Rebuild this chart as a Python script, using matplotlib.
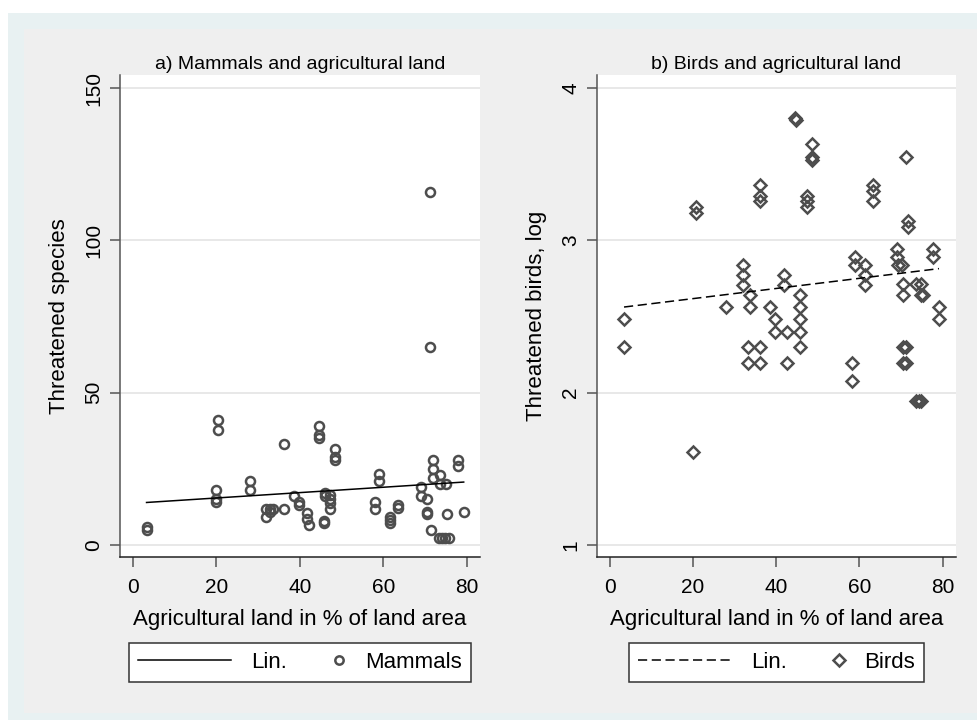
import matplotlib

matplotlib.use("Agg")
import matplotlib.pyplot as plt
import numpy as np
from matplotlib.lines import Line2D
from matplotlib.patches import Rectangle
from matplotlib.legend_handler import HandlerLine2D

# ---------- data ----------
mammal_x = [3.35, 3.35, 20.5, 20.5, 20.0, 20.0, 20.0, 28.1, 28.1, 31.9, 31.9, 32.9,
            33.7, 32.9, 36.2, 36.2, 38.5, 39.7, 39.7, 41.8, 41.8, 42.3, 45.7, 45.7,
            44.7, 44.7, 44.7, 46.1, 46.1, 47.3, 47.3, 47.3, 47.3, 48.5, 48.5, 48.5,
            58.9, 58.9, 58.0, 58.0, 61.5, 61.5, 61.5, 63.6, 63.6, 69.0, 69.0, 70.4,
            70.4, 70.4, 71.2, 71.2, 71.9, 71.9, 71.9, 71.5, 73.6, 73.6, 75.0, 75.2,
            73.2, 74.0, 74.8, 75.6, 77.8, 77.8, 79.2]
mammal_y = [6.0, 4.9, 41.2, 37.9, 18.0, 15.3, 14.0, 21.0, 18.0, 12.0, 9.3, 12.0,
            12.0, 10.9, 33.1, 12.0, 16.2, 14.2, 13.1, 10.4, 8.7, 6.6, 8.0, 7.3,
            39.1, 36.1, 35.0, 17.2, 16.2, 16.4, 15.3, 13.7, 12.0, 31.4, 29.0, 27.9,
            23.2, 21.0, 14.2, 12.0, 9.3, 8.2, 7.1, 13.1, 12.2, 19.1, 16.1, 15.0,
            10.9, 10.2, 115.8, 65.0, 27.9, 24.9, 21.9, 4.9, 23.0, 20.2, 20.2, 10.1,
            2.2, 2.2, 2.2, 2.2, 28.1, 25.9, 10.9]

bird_x = [3.4, 3.4, 20.6, 20.6, 20.0, 28.0, 32.1, 32.1, 32.1, 33.7, 33.7, 33.3,
          33.3, 36.1, 36.1, 36.2, 36.2, 36.2, 38.5, 39.7, 39.7, 41.8, 41.8, 42.5,
          42.5, 44.6, 44.8, 45.8, 45.8, 45.8, 45.8, 45.8, 47.3, 47.3, 47.3, 48.5,
          48.5, 48.5, 58.1, 58.1, 58.9, 58.9, 61.3, 61.3, 61.3, 63.3, 63.3, 63.3,
          68.9, 68.9, 69.3, 70.1, 70.4, 70.4, 70.4, 70.4, 71.2, 71.2, 71.2, 71.7,
          71.7, 73.7, 74.3, 74.9, 73.7, 74.9, 74.9, 75.2, 77.7, 77.7, 79.1, 79.1]
bird_y = [2.486, 2.30, 3.218, 3.18, 1.612, 2.562, 2.835, 2.77, 2.704, 2.639, 2.562, 2.30,
          2.195, 2.30, 2.195, 3.364, 3.294, 3.26, 2.562, 2.486, 2.40, 2.77, 2.704, 2.40,
          2.195, 3.80, 3.79, 2.639, 2.562, 2.486, 2.40, 2.30, 3.294, 3.26, 3.218, 3.633,
          3.546, 3.524, 2.195, 2.08, 2.89, 2.835, 2.835, 2.77, 2.704, 3.36, 3.327, 3.255,
          2.945, 2.89, 2.835, 2.835, 2.711, 2.639, 2.30, 2.195, 2.30, 2.195, 3.55, 3.13,
          3.087, 1.946, 1.946, 1.946, 2.711, 2.711, 2.639, 2.639, 2.945, 2.89, 2.562, 2.486]

# linear fits (intercept, slope) as shown in the picture
mammal_fit = (13.7, 0.0883)
bird_fit = (2.551, 0.00333)

x_ticks = [0, 20, 40, 60, 80]
mammal_ticks = [0, 50, 100, 150]
bird_ticks = [1, 2, 3, 4]

plt.rcParams["font.family"] = ["Liberation Sans", "DejaVu Sans"]

MK = "#4d4d4d"
fig = plt.figure(figsize=(9.78, 7.2), dpi=100, facecolor="white")

# page background bands (white, light blue, gray)
fig.patches.append(Rectangle((8 / 978, 0), 1, 1 - 13 / 720, transform=fig.transFigure,
                             facecolor="#e8f1f2", edgecolor="none", zorder=-3))
fig.patches.append(Rectangle((24 / 978, 7 / 720), (977 - 24) / 978, (713 - 29) / 720,
                             transform=fig.transFigure, facecolor="#efefef",
                             edgecolor="none", zorder=-2))


class MarkerAtRight(HandlerLine2D):
    # single marker placed near the right end of the handle box
    def create_artists(self, legend, orig_handle, xdescent, ydescent, width,
                       height, fontsize, trans):
        x = -xdescent + width - 0.27 * fontsize
        y = (height - ydescent) / 2
        mk = Line2D([x], [y])
        self.update_prop(mk, orig_handle, legend)
        mk.set_transform(trans)
        return [mk]


def style_axes(ax, yticks):
    ax.set_facecolor("white")
    for s in ["top", "right"]:
        ax.spines[s].set_visible(False)
    ax.spines["left"].set_color("#555555")
    ax.spines["bottom"].set_color("#222222")
    ax.spines["left"].set_linewidth(1.1)
    ax.spines["bottom"].set_linewidth(1.1)
    ax.set_xticks(x_ticks)
    ax.set_yticks(yticks)
    ax.tick_params(axis="both", length=7, width=1.1, color="#555555",
                   labelsize=15)
    ax.tick_params(axis="x", pad=8)
    ax.tick_params(axis="y", pad=5, labelrotation=90)
    for lab in ax.get_yticklabels():
        lab.set_va("center")
    ax.yaxis.grid(True, color="#e6e6e6", lw=1.3)
    ax.set_axisbelow(True)
    ax.set_xlabel("Agricultural land in % of land area", fontsize=16, labelpad=9)


def add_legend(ax, line_h, mark_h, labels):
    leg = ax.legend([line_h, mark_h], labels, loc="upper center",
                    bbox_to_anchor=(0.5, -0.178), borderaxespad=0, ncol=2,
                    fontsize=16, handlelength=4.19, handletextpad=0.9,
                    columnspacing=-1.58, borderpad=0.4, fancybox=False,
                    framealpha=1, edgecolor="#333333",
                    handler_map={mark_h: MarkerAtRight()})
    leg.get_frame().set_linewidth(1.1)


# ---------- panel a ----------
ax1 = fig.add_axes([120 / 978, 163 / 720, 360 / 978, 482 / 720])
ax1.plot(mammal_x, mammal_y, "o", ms=6.5, mfc="none", mec=MK, mew=1.8, zorder=3)
fx = np.array([min(mammal_x), max(mammal_x)])
ax1.plot(fx, mammal_fit[0] + mammal_fit[1] * fx, color="black", lw=1.1, zorder=4)
ax1.set_xlim(-3.0, 83.1)
ax1.set_ylim(-3.9, 154.3)
style_axes(ax1, mammal_ticks)
ax1.set_ylabel("Threatened species", fontsize=16, labelpad=10)
ax1.set_title("a) Mammals and agricultural land", fontsize=14, pad=4)
lin_a = Line2D([], [], color="black", lw=1.1)
mk_a = Line2D([], [], marker="o", ls="none", ms=6, mfc="none", mec=MK, mew=1.8)
add_legend(ax1, lin_a, mk_a, ["Lin.", "Mammals"])

# ---------- panel b ----------
ax2 = fig.add_axes([597 / 978, 163 / 720, 359 / 978, 482 / 720])
ax2.plot(bird_x, bird_y, "D", ms=6.6, mfc="none", mec=MK, mew=1.8, zorder=3)
fx = np.array([min(bird_x), max(bird_x)])
ax2.plot(fx, bird_fit[0] + bird_fit[1] * fx, color="black", lw=1.1,
         dashes=(6, 3), zorder=4)
ax2.set_xlim(-3.1, 83.2)
ax2.set_ylim(0.922, 4.085)
style_axes(ax2, bird_ticks)
ax2.set_ylabel("Threatened birds, log", fontsize=16, labelpad=10)
ax2.set_title("b) Birds and agricultural land", fontsize=14, pad=4)
lin_b = Line2D([], [], color="black", lw=1.1, dashes=(6, 3))
mk_b = Line2D([], [], marker="D", ls="none", ms=6.6, mfc="none", mec=MK, mew=1.8)
add_legend(ax2, lin_b, mk_b, ["Lin.", "Birds"])

fig.savefig("out.png", dpi=100, facecolor=fig.get_facecolor())
